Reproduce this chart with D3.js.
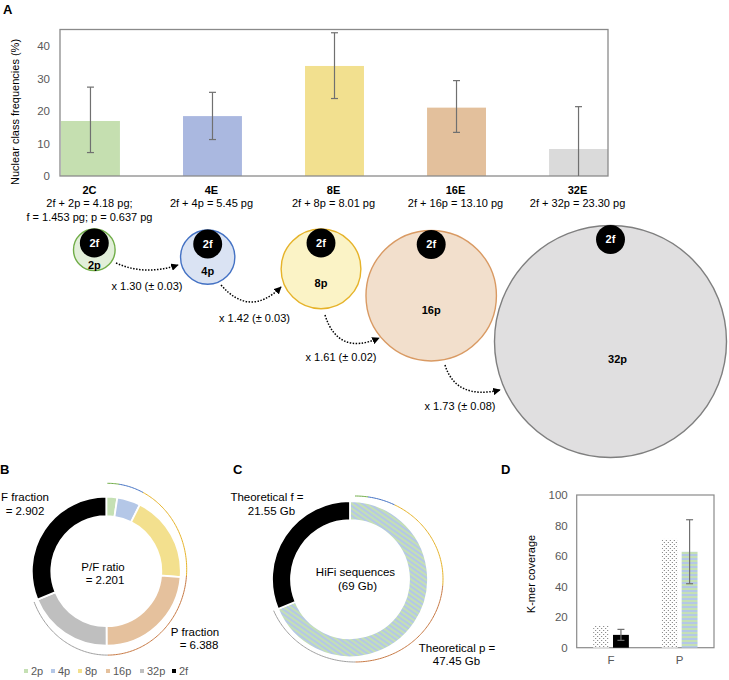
<!DOCTYPE html>
<html><head><meta charset="utf-8">
<script src="https://cdn.jsdelivr.net/npm/d3@7"></script>
<style>
html,body{margin:0;padding:0;background:#fff;}
svg{display:block;font-family:"Liberation Sans",Arial,sans-serif;}
</style></head>
<body><svg id="c" width="729" height="680"></svg>
<script>
// ---------- data ----------
const categories = ['2C','4E','8E','16E','32E'];
const formulas = [['2f + 2p = 4.18 pg;','f = 1.453 pg; p = 0.637 pg'],['2f + 4p = 5.45 pg'],['2f + 8p = 8.01 pg'],['2f + 16p = 13.10 pg'],['2f + 32p = 23.30 pg']];
const freq = [16.9, 18.4, 33.8, 21.0, 8.3];
const freqLow = [7.2, 11.2, 23.8, 13.4, 0];
const freqHigh = [27.3, 25.7, 44.0, 29.3, 21.3];
const yTicksA = [0, 10, 20, 30, 40];
const nucleusSizes = [4.18, 5.45, 8.01, 13.10, 23.30];
const fSize = 2 * 1.453;
const pLabels = ['2p','4p','8p','16p','32p'];
const foldChanges = ['x 1.30 (\u00b1 0.03)','x 1.42 (\u00b1 0.03)','x 1.61 (\u00b1 0.02)','x 1.73 (\u00b1 0.08)'];

const donutLabels = ['2p','4p','8p','16p','32p','2f'];
const donutValues = [0.22, 0.47, 1.75, 2.20, 1.75, 2.902];

const hifiLabels = ['f','p'];
const hifiValues = [21.55, 47.45];

const kmerCats = ['F','P'];
const kmerTheo = [14.2, 71.2];
const kmerObs = [8.4, 62.8];
const kmerLow = [4.8, 41.9];
const kmerHigh = [12.0, 83.8];
const yTicksD = [0, 20, 40, 60, 80, 100];

// ---------- styles ----------
const barFills = ['#c5dfb0','#aab8e0','#f2e08f','#e3c09c','#dadada'];
const circFills = ['#e2efd9','#dae3f3','#fbf3c6','#f2dfcc','#e0dfe0'];
const circStrokes = ['#70ad47','#4472c4','#e6b32a','#d99a63','#7f7f7f'];
const donutFills = ['#c5e0b4','#b4c7e7','#f3e08e','#e5c19d','#bfbfbf','#000000'];
const arcStrokes = ['#70ad47','#4472c4','#e6b32a','#c87a45','#a0a0a0'];
const gray = '#595959';

const svg = d3.select('#c');
const defs = svg.append('defs');

// patterns
const dots = defs.append('pattern').attr('id','dots').attr('patternUnits','userSpaceOnUse').attr('width',4).attr('height',4);
dots.append('rect').attr('width',4).attr('height',4).attr('fill','#fff');
dots.append('rect').attr('x',0).attr('y',0).attr('width',1).attr('height',1).attr('fill','#777');
dots.append('rect').attr('x',2).attr('y',2).attr('width',1).attr('height',1).attr('fill','#777');
const hstripe = defs.append('pattern').attr('id','hstripe').attr('patternUnits','userSpaceOnUse').attr('width',4).attr('height',4);
hstripe.append('rect').attr('width',4).attr('height',2).attr('fill','#c5e0b4');
hstripe.append('rect').attr('y',2).attr('width',4).attr('height',2).attr('fill','#b4c7e7');
const dstripe = defs.append('pattern').attr('id','dstripe').attr('patternUnits','userSpaceOnUse').attr('width',4).attr('height',4).attr('patternTransform','rotate(35)');
dstripe.append('rect').attr('width',4).attr('height',2).attr('fill','#c5e0b4');
dstripe.append('rect').attr('y',2).attr('width',4).attr('height',2).attr('fill','#b4c7e7');

defs.append('marker').attr('id','ah').attr('viewBox','0 0 10 10').attr('refX',9).attr('refY',5)
  .attr('markerWidth',5).attr('markerHeight',5).attr('orient','auto-start-reverse').attr('markerUnits','strokeWidth')
  .append('path').attr('d','M0,0L10,5L0,10z').attr('fill','#000');

function panelLabel(t, x, y){
  svg.append('text').attr('x',x).attr('y',y).attr('font-size',13).attr('font-weight','bold').text(t);
}
panelLabel('A', 3, 14);
panelLabel('B', 0, 474);
panelLabel('C', 233, 474);
panelLabel('D', 501, 474);

// ---------- Panel A bar chart ----------
const A = {l:61, r:608, t:29.5, b:176};
const xA = d3.scaleBand().domain(categories).range([A.l, A.r]).paddingInner(0.517).paddingOuter(0);
const yA = d3.scaleLinear().domain([0,45]).range([A.b, A.t]);
const gA = svg.append('g');
gA.selectAll('rect.bar').data(freq).join('rect').attr('class','bar')
  .attr('x',(d,i)=>xA(categories[i])).attr('width',xA.bandwidth())
  .attr('y',d=>yA(d)).attr('height',d=>yA(0)-yA(d)).attr('fill',(d,i)=>barFills[i]);
gA.append('rect').attr('x',A.l-1).attr('y',A.t).attr('width',A.r-A.l+1).attr('height',A.b-A.t)
  .attr('fill','none').attr('stroke','#8a8a8a').attr('stroke-width',1.3);
const eb = gA.selectAll('g.eb').data(categories).join('g').attr('class','eb')
  .attr('stroke','#707070').attr('stroke-width',1.2);
eb.append('line').attr('x1',d=>xA(d)+xA.bandwidth()/2).attr('x2',d=>xA(d)+xA.bandwidth()/2)
  .attr('y1',(d,i)=>yA(freqLow[i])).attr('y2',(d,i)=>yA(freqHigh[i]));
eb.append('line').attr('x1',d=>xA(d)+xA.bandwidth()/2-3.5).attr('x2',d=>xA(d)+xA.bandwidth()/2+3.5)
  .attr('y1',(d,i)=>yA(freqHigh[i])).attr('y2',(d,i)=>yA(freqHigh[i]));
eb.filter((d,i)=>freqLow[i]>0).append('line').attr('x1',d=>xA(d)+xA.bandwidth()/2-3.5).attr('x2',d=>xA(d)+xA.bandwidth()/2+3.5)
  .attr('y1',(d,i)=>yA(freqLow[i])).attr('y2',(d,i)=>yA(freqLow[i]));
const axA = svg.append('g').attr('transform',`translate(${A.l-1},0)`)
  .call(d3.axisLeft(yA).tickValues(yTicksA).tickSize(0).tickPadding(10));
axA.select('.domain').remove();
axA.selectAll('text').attr('font-size',11.5).attr('fill',gray).attr('font-family','"Liberation Sans",Arial,sans-serif');
svg.append('text').attr('transform','translate(19,112) rotate(-90)').attr('text-anchor','middle')
  .attr('font-size',11).attr('fill','#000').text('Nuclear class frequencies (%)');
// category labels
const catG = svg.selectAll('g.cat').data(categories).join('g').attr('class','cat')
  .attr('transform',d=>`translate(${xA(d)+xA.bandwidth()/2-1},0)`).attr('text-anchor','middle').attr('font-size',11);
catG.append('text').attr('y',194).attr('font-weight','bold').text(d=>d);
catG.each(function(d,i){
  d3.select(this).selectAll('text.f').data(formulas[i]).join('text').attr('class','f')
    .attr('y',(t,j)=>207+j*13.5).text(t=>t);
});

// ---------- nucleus circles ----------
const rScale = d3.scaleLinear().domain([0, 23.3]).range([0, 116]);
const circCx = [94.3, 207.7, 321, 431.2, 610.5];
const circTop = [229, 230, 229, 230.5, 225.5];
const nuc = svg.selectAll('g.nuc').data(nucleusSizes).join('g').attr('class','nuc');
nuc.append('circle').attr('cx',(d,i)=>circCx[i]).attr('cy',(d,i)=>circTop[i]+rScale(d)).attr('r',d=>rScale(d))
  .attr('fill',(d,i)=>circFills[i]).attr('stroke',(d,i)=>circStrokes[i]).attr('stroke-width',1.4);
nuc.append('circle').attr('cx',(d,i)=>circCx[i]).attr('cy',(d,i)=>circTop[i]+rScale(fSize)-0.5).attr('r',rScale(fSize)).attr('fill','#000');
nuc.append('text').attr('x',(d,i)=>circCx[i]).attr('y',(d,i)=>circTop[i]+rScale(fSize)+3.5)
  .attr('text-anchor','middle').attr('fill','#fff').attr('font-weight','bold').attr('font-size',11).text('2f');
nuc.append('text').attr('x',(d,i)=>circCx[i]+(i===4?7:0)).attr('y',(d,i)=>circTop[i]+rScale(d)+(i===0?19:i===4?21:18))
  .attr('text-anchor','middle').attr('fill','#000').attr('font-weight','bold').attr('font-size',11).text((d,i)=>pLabels[i]);

// arrows (annotation): start, control, end
const arrowPts = [
  [[116,263],[145,276],[178,265]],
  [[221,285],[250,318],[281,287]],
  [[325,315],[338,356],[379,338]],
  [[445,365],[456,400],[500,390]]
];
const arrowLab = [[147,290],[254.5,321.5],[341,361],[460,410]];
svg.selectAll('path.arr').data(arrowPts).join('path').attr('class','arr')
  .attr('d',d=>{const p=d3.path(); p.moveTo(d[0][0],d[0][1]); p.quadraticCurveTo(d[1][0],d[1][1],d[2][0],d[2][1]); return p.toString();})
  .attr('fill','none').attr('stroke','#000').attr('stroke-width',1.5).attr('stroke-dasharray','1.5,1.5')
  .attr('marker-end','url(#ah)');
svg.selectAll('text.fc').data(foldChanges).join('text').attr('class','fc')
  .attr('x',(d,i)=>arrowLab[i][0]).attr('y',(d,i)=>arrowLab[i][1]).attr('text-anchor','middle').attr('font-size',11).text(d=>d);

// ---------- helper: elliptical decoration arc ----------
function ellArc(cx, cy, rx, ry, a0, a1){
  const n = Math.max(2, Math.ceil((a1-a0)/0.02));
  const pts = d3.range(n+1).map(k=>{const a=a0+(a1-a0)*k/n; return [cx+rx*Math.sin(a), cy-ry*Math.cos(a)];});
  return d3.line()(pts);
}

// ---------- Panel B donut ----------
const pie = d3.pie().sort(null).value(d=>d);
const bC = {x:106.3, y:571.2};
const arcB = d3.arc().innerRadius(55).outerRadius(74.5);
const gB = svg.append('g').attr('transform',`translate(${bC.x},${bC.y})`);
const arcsB = pie(donutValues);
gB.selectAll('path').data(arcsB).join('path').attr('d',arcB).attr('fill',(d,i)=>donutFills[i])
  .attr('stroke','#fff').attr('stroke-width',1.8);
// decoration arcs over P portion
arcsB.slice(0,5).forEach((a,i)=>{
  svg.append('path').attr('d',ellArc(107.4,569.2,79.3,85.9,a.startAngle,a.endAngle))
    .attr('fill','none').attr('stroke',arcStrokes[i]).attr('stroke-width',1);
});
function txt(x,y,t,anchor){ svg.append('text').attr('x',x).attr('y',y).attr('text-anchor',anchor||'middle').attr('font-size',11.5).text(t); }
txt(25,501,'F fraction'); txt(25,515,'= 2.902');
txt(103,571,'P/F ratio'); txt(105,584,'= 2.201');
txt(195,636,'P fraction'); txt(199,649,'= 6.388');
// legend
const legX = [26, 53, 80, 108, 142, 174];
const leg = svg.selectAll('g.leg').data(donutLabels).join('g').attr('class','leg')
  .attr('transform',(d,i)=>`translate(${legX[i]},671)`);
leg.append('rect').attr('x',-2).attr('y',-2).attr('width',4).attr('height',4).attr('fill',(d,i)=>donutFills[i]);
leg.append('text').attr('x',5).attr('y',4).attr('font-size',11).attr('fill',gray).text(d=>d);

// ---------- Panel C donut ----------
const cC = {x:350, y:579.2};
const arcC = d3.arc().innerRadius(59).outerRadius(78);
const arcsC = d3.pie().sort(null).value(d=>d)([hifiValues[1], hifiValues[0]]);
const gC = svg.append('g').attr('transform',`translate(${cC.x},${cC.y})`);
gC.selectAll('path').data(arcsC).join('path').attr('d',arcC).attr('fill',(d,i)=>i===0?'url(#dstripe)':'#000')
  .attr('stroke','#fff').attr('stroke-width',1.8);
// decoration arcs: P span split like panel B
const pSum = d3.sum(donutValues.slice(0,5));
const pSpan = arcsC[0].endAngle;
let acc = 0;
donutValues.slice(0,5).forEach((v,i)=>{
  const a0 = acc/pSum*pSpan; acc += v; const a1 = acc/pSum*pSpan;
  svg.append('path').attr('d',ellArc(355,579,88,83,a0,a1)).attr('fill','none').attr('stroke',arcStrokes[i]).attr('stroke-width',1);
});
txt(267,501,'Theoretical f ='); txt(271.5,515,'21.55 Gb');
txt(355.5,576,'HiFi  sequences'); txt(357.5,590,'(69 Gb)');
txt(457,652,'Theoretical p ='); txt(456.5,665,'47.45 Gb');

// ---------- Panel D ----------
const D = {l:576.7, r:714, t:495, b:647.7};
const xD = d3.scaleBand().domain(kmerCats).range([D.l, D.r]).paddingInner(0.48).paddingOuter(0.24);
const xD2 = d3.scaleBand().domain(['theo','obs']).range([0, xD.bandwidth()]).paddingInner(0.2);
const yD = d3.scaleLinear().domain([0,100]).range([D.b, D.t]);
svg.append('rect').attr('x',D.l).attr('y',D.t).attr('width',D.r-D.l).attr('height',D.b-D.t)
  .attr('fill','none').attr('stroke','#8a8a8a').attr('stroke-width',1.2);
const gD = svg.selectAll('g.kd').data(kmerCats).join('g').attr('class','kd').attr('transform',d=>`translate(${xD(d)},0)`);
gD.append('rect').attr('x',xD2('theo')).attr('width',xD2.bandwidth()).attr('y',(d,i)=>yD(kmerTheo[i]))
  .attr('height',(d,i)=>yD(0)-yD(kmerTheo[i])).attr('fill','url(#dots)');
gD.append('rect').attr('x',xD2('obs')).attr('width',xD2.bandwidth()).attr('y',(d,i)=>yD(kmerObs[i]))
  .attr('height',(d,i)=>yD(0)-yD(kmerObs[i])).attr('fill',(d,i)=>i===0?'#000':'url(#hstripe)');
const ebx = xD2('obs')+xD2.bandwidth()/2;
gD.append('line').attr('x1',ebx).attr('x2',ebx).attr('y1',(d,i)=>yD(kmerLow[i])).attr('y2',(d,i)=>yD(kmerHigh[i])).attr('stroke','#707070').attr('stroke-width',1.2);
[kmerLow,kmerHigh].forEach(arr=>{
  gD.append('line').attr('x1',ebx-3.5).attr('x2',ebx+3.5).attr('y1',(d,i)=>yD(arr[i])).attr('y2',(d,i)=>yD(arr[i])).attr('stroke','#707070').attr('stroke-width',1.2);
});
const axD = svg.append('g').attr('transform',`translate(${D.l},0)`)
  .call(d3.axisLeft(yD).tickValues(yTicksD).tickSize(0).tickPadding(9));
axD.select('.domain').remove();
axD.selectAll('text').attr('font-size',11.5).attr('fill',gray).attr('font-family','"Liberation Sans",Arial,sans-serif');
const axDx = svg.append('g').attr('transform',`translate(0,${D.b})`)
  .call(d3.axisBottom(xD).tickSize(0).tickPadding(8));
axDx.select('.domain').remove();
axDx.selectAll('text').attr('font-size',11.5).attr('fill',gray).attr('font-family','"Liberation Sans",Arial,sans-serif');
svg.append('text').attr('transform','translate(535,574) rotate(-90)').attr('text-anchor','middle').attr('font-size',11).text('K-mer coverage');
</script></body></html>
